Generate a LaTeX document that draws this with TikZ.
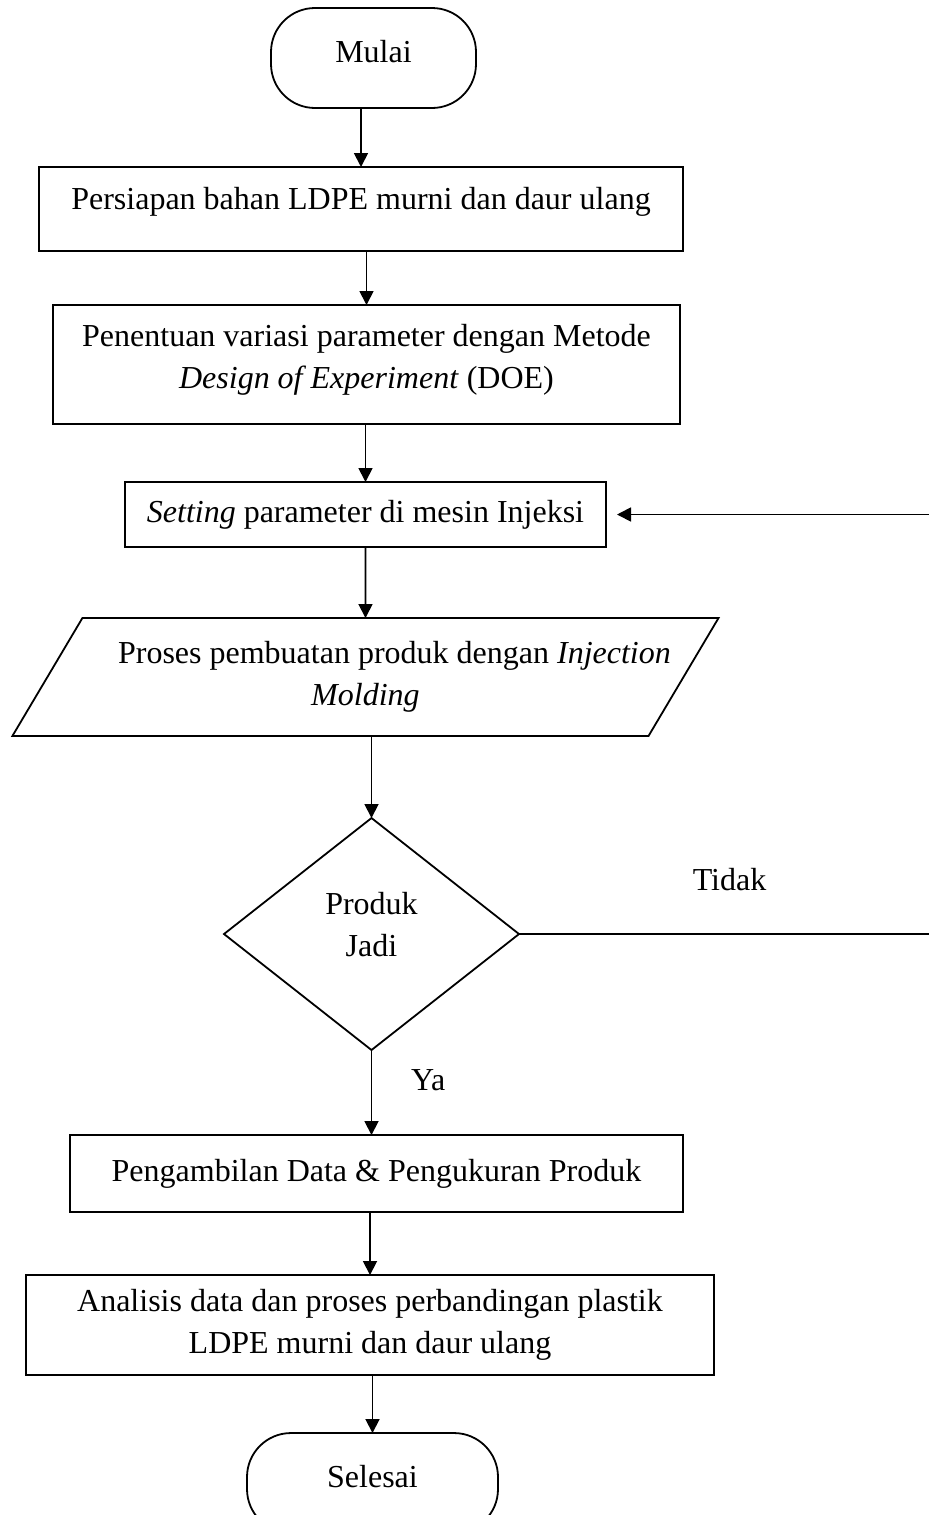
\documentclass[tikz,border=0pt]{standalone}
\usepackage{fontspec}
\setmainfont{Liberation Serif}
\usetikzlibrary{arrows.meta,positioning,shapes.geometric}

\begin{document}
\begin{tikzpicture}[line width=0.9pt, every node/.style={font=\fontsize{16pt}{21pt}\selectfont,align=center,outer sep=0pt},
  term/.style={draw,rectangle,rounded corners=22pt,minimum height=50pt,text depth=7pt},
  box/.style={draw,rectangle},
  io/.style={draw,trapezium,trapezium left angle=50.3,trapezium right angle=129.7,trapezium stretches body,minimum width=352.5pt,minimum height=59pt},
  decide/.style={draw,diamond,aspect=1.27,inner sep=0pt,minimum width=147.5pt,minimum height=116pt},
  arr/.style={-{Triangle[length=7pt,width=7pt]}}]
\useasboundingbox (0,0) rectangle (464.5pt,-757.5pt);
\clip (0,0) rectangle (464.5pt,-757.5pt);
\node[term,minimum width=102.5pt] (start) at (186.75pt,-29pt) {Mulai};
\node[box,minimum width=322pt,minimum height=42pt,text depth=10.5pt,below=29.5pt of start,xshift=-6.25pt] (prep) {Persiapan bahan LDPE murni dan daur ulang};
\node[box,minimum width=313.5pt,minimum height=59.5pt,text depth=8.5pt,below=27pt of prep,xshift=2.75pt] (doe) {Penentuan variasi parameter dengan Metode\\\textit{Design of Experiment} (DOE)};
\node[box,minimum width=240.5pt,minimum height=32.5pt,below=29pt of doe,xshift=-0.5pt] (set) {\textit{Setting} parameter di mesin Injeksi};
\node[io,below=35.5pt of set] (mold) {\hspace*{14.5pt}Proses pembuatan produk dengan \textit{Injection}\hspace*{-14.5pt}\\\textit{Molding}};
\node[decide,text depth=10pt,below=41pt of mold,xshift=3pt] (check) {Produk\\Jadi};
\node[box,minimum width=306.5pt,minimum height=38.5pt,below=42.5pt of check,xshift=2.5pt] (meas) {Pengambilan Data \& Pengukuran Produk};
\node[box,minimum width=344pt,minimum height=50pt,below=31.5pt of meas,xshift=-3.25pt] (anal) {Analisis data dan proses perbandingan plastik\\LDPE murni dan daur ulang};
\node[term,minimum width=125.5pt,below=29pt of anal,xshift=1.25pt] (stop) {Selesai};
\coordinate (back) at (470pt,0 |- check.east);
\draw[arr] (start.south -| prep) -- (prep); \draw[arr] (prep.south -| doe) -- (doe); \draw[arr] (doe.south -| set) -- (set);
\draw[arr] (set.south -| mold) -- (mold); \draw[arr] (mold.south -| check) -- (check);
\draw[arr] (check) -- node[pos=0.35,right=16.5pt] (yes) {Ya} (check |- meas.north);
\draw[arr] (meas.south -| anal) -- (anal); \draw[arr] (anal.south -| stop) -- (stop);
\draw[arr,shorten >=5.5pt] (check.east) -- node[above=18.5pt] (no) {Tidak} (back) |- (set.east);
\end{tikzpicture}
\end{document}
